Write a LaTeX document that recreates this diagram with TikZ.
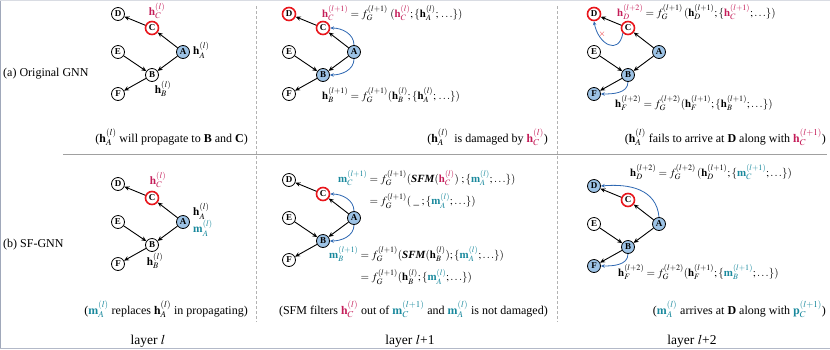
\documentclass[tikz,border=0pt]{standalone}
\usepackage{amsmath}
\usepackage{mathptmx}
\usepackage{fontspec}
\setmainfont{Liberation Serif}
\usetikzlibrary{arrows.meta,positioning}

\definecolor{hotred}{RGB}{232,22,28}
\definecolor{hcol}{RGB}{196,28,88}
\definecolor{mcol}{RGB}{24,136,156}
\definecolor{nodeblue}{RGB}{157,195,230}
\definecolor{flowblue}{RGB}{46,104,178}
\definecolor{rulegray}{RGB}{160,160,160}
\definecolor{framegray}{RGB}{160,168,186}

\begin{document}
\begin{tikzpicture}[x=1pt,y=-1pt,>={Stealth[length=5pt,width=4.4pt]},
    gnode/.style={circle,draw,line width=0.8pt,fill=white,minimum size=13pt,inner sep=0pt,font=\bfseries\fontsize{9}{10}\selectfont},
    hot/.style={gnode,draw=hotred,line width=1.6pt},
    seen/.style={gnode,fill=nodeblue},
    link/.style={->,line width=0.9pt},
    flow/.style={-{Stealth[length=3.8pt,width=3.4pt]},flowblue,line width=0.8pt},
    lab/.style={font=\fontsize{11.5}{13}\selectfont,inner sep=0pt},
    eqn/.style={font=\fontsize{11}{13}\selectfont,inner sep=0pt,anchor=base west},
    capnote/.style={font=\fontsize{12}{14}\selectfont,inner sep=0pt,anchor=base east}]
    \useasboundingbox (0,0) rectangle (830,349);

    % frame and separators
    \draw[framegray] (0.6,0) -- (0.6,349);
    \draw[framegray!40] (0,0.6) -- (830,0.6);
    \draw[framegray!80,line width=1.2pt] (0,348.2) -- (830,348.2);
    \draw[rulegray,line width=1pt] (63,154) -- (827,154);
    \draw[rulegray!80,line width=0.9pt,dash pattern=on 3pt off 2pt] (256,6) -- (256,322);
    \draw[rulegray!80,line width=0.9pt,dash pattern=on 3pt off 2pt] (557,6) -- (557,322);

    % the six graphs
    \foreach \p/\ox/\oy/\sD/\sC/\sB/\sF in {
        1/118/14/gnode/hot/gnode/gnode,
        2/289/14/hot/hot/seen/gnode,
        3/594/14/hot/hot/seen/seen,
        4/118/184/gnode/hot/gnode/gnode,
        5/289/180/gnode/hot/seen/gnode,
        6/594/186/seen/hot/seen/seen}{
        \begin{scope}[shift={(\ox,\oy)}]
            \node[\sD] (D\p) at (0,0) {D};
            \node[\sC] (C\p) at (34,14) {C};
            \node[seen] (A\p) at (65,38) {A};
            \node[gnode] (E\p) at (0,38) {E};
            \node[\sB] (B\p) at (34,61) {B};
            \node[\sF] (F\p) at (0,80) {F};
        \end{scope}
        \foreach \s/\t in {A/C,C/D,A/B,E/B,B/F}
            \draw[link] (\s\p) -- (\t\p);
    }

    % message flows
    \draw[flow] (A2.north) to[out=90,in=0] (C2.east);
    \draw[flow] (A2.south) to[out=-90,in=0] (B2.east);
    \draw[flow] (C3.south west) to[out=-100,in=-80,looseness=1.9] (D3.south);
    \draw[flow] (B3.south) to[out=-90,in=0] (F3.east);
    \draw[flow] (A5.north) to[out=90,in=0] (C5.east);
    \draw[flow] (A5.south) to[out=-90,in=0] (B5.east);
    \draw[flow] (A6.north) to[out=95,in=5,looseness=1.1] (D6.east);
    \draw[flow] (B6.south) to[out=-90,in=0] (F6.east);
    \node[text=hotred,inner sep=0pt,font=\small] (cut) at (602,34) {$\times$};

    % row labels
    \node[capnote,anchor=base west] (rowa) at (3,76) {(a) Original GNN};
    \node[capnote,anchor=base west] (rowb) at (3,247) {(b) SF-GNN};

    % (a) layer l
    \node[lab,text=hcol] (hc1) at (157,11) {$\mathbf{h}_C^{(l)}$};
    \node[lab,anchor=west] (ha1) at (193,50) {$\mathbf{h}_A^{(l)}$};
    \node[lab] (hb1) at (163,89) {$\mathbf{h}_B^{(l)}$};
    \node[capnote] (cap1) at (248,142) {($\mathbf{h}_A^{(l)}$ will propagate to \textbf{B} and \textbf{C})};

    % (a) layer l+1
    \node[eqn] (eqc2) at (322,17)
        {$\textcolor{hcol}{\mathbf{h}_C^{(l+1)}} = f_G^{(l+1)}\;(\textcolor{hcol}{\mathbf{h}_C^{(l)}};\{\mathbf{h}_A^{(l)};\,\ldots\})$};
    \node[eqn] (eqb2) at (322,99)
        {$\mathbf{h}_B^{(l+1)} = f_G^{(l+1)}(\mathbf{h}_B^{(l)};\{\mathbf{h}_A^{(l)};\,\ldots\})$};
    \node[capnote] (cap2) at (548,142) {($\mathbf{h}_A^{(l)}$\ \ is damaged by \textcolor{hcol}{$\mathbf{h}_C^{(l)}$})};

    % (a) layer l+2
    \node[eqn] (eqd3) at (617,16)
        {$\textcolor{hcol}{\mathbf{h}_D^{(l+2)}} = f_G^{(l+1)}\,(\mathbf{h}_D^{(l+1)};\{\textcolor{hcol}{\mathbf{h}_C^{(l+1)}};\ldots\})$};
    \node[eqn] (eqf3) at (615,107)
        {$\mathbf{h}_F^{(l+2)} = f_G^{(l+2)}(\mathbf{h}_F^{(l+1)};\{\mathbf{h}_B^{(l+1)};\ldots\})$};
    \node[capnote] (cap3) at (826,142) {($\mathbf{h}_A^{(l)}$ fails to arrive at \textbf{D} along with \textcolor{hcol}{$\mathbf{h}_C^{(l+1)}$})};

    % (b) layer l
    \node[lab,text=hcol] (hc4) at (158,180) {$\mathbf{h}_C^{(l)}$};
    \node[lab,anchor=west] (ha4) at (193,211) {$\mathbf{h}_A^{(l)}$};
    \node[lab,anchor=west,text=mcol] (ma4) at (193,228) {$\mathbf{m}_A^{(l)}$};
    \node[lab] (hb4) at (155,261) {$\mathbf{h}_B^{(l)}$};
    \node[capnote] (cap4) at (248,314) {(\textcolor{mcol}{$\mathbf{m}_A^{(l)}$} replaces $\mathbf{h}_A^{(l)}$ in propagating)};

    % (b) layer l+1
    \node[eqn] (eqc5) at (338,182)
        {$\begin{aligned}[t]
            \textcolor{mcol}{\mathbf{m}_C^{(l+1)}} &= f_G^{(l+1)}(\text{\textbf{\textit{SFM}}}(\textcolor{hcol}{\mathbf{h}_C^{(l)}})\;;\{\textcolor{mcol}{\mathbf{m}_A^{(l)}};\ldots\})\\[3pt]
            &= f_G^{(l+1)}(\;\_\;;\{\textcolor{mcol}{\mathbf{m}_A^{(l)}};\ldots\})
        \end{aligned}$};
    \node[eqn] (eqb5) at (329,258)
        {$\begin{aligned}[t]
            \textcolor{mcol}{\mathbf{m}_B^{(l+1)}} &= f_G^{(l+1)}(\text{\textbf{\textit{SFM}}}(\mathbf{h}_B^{(l)});\{\textcolor{mcol}{\mathbf{m}_A^{(l)}};\ldots\})\\[3pt]
            &= f_G^{(l+1)}(\mathbf{h}_B^{(l)};\{\textcolor{mcol}{\mathbf{m}_A^{(l)}};\ldots\})
        \end{aligned}$};
    \node[capnote] (cap5) at (548,314) {(SFM filters \textcolor{hcol}{$\mathbf{h}_C^{(l)}$} out of \textcolor{mcol}{$\mathbf{m}_C^{(l+1)}$} and \textcolor{mcol}{$\mathbf{m}_A^{(l)}$} is not damaged)};

    % (b) layer l+2
    \node[eqn] (eqd6) at (630,176)
        {$\mathbf{h}_D^{(l+2)} = f_G^{(l+2)}\,(\mathbf{h}_D^{(l+1)};\{\textcolor{mcol}{\mathbf{m}_C^{(l+1)}};\ldots\})$};
    \node[eqn] (eqf6) at (618,276)
        {$\mathbf{h}_F^{(l+2)} = f_G^{(l+2)}(\mathbf{h}_F^{(l+1)};\{\textcolor{mcol}{\mathbf{m}_B^{(l+1)}};\ldots\})$};
    \node[capnote] (cap6) at (826,314) {(\textcolor{mcol}{$\mathbf{m}_A^{(l)}$} arrives at \textbf{D} along with \textcolor{mcol}{$\mathbf{p}_C^{(l+1)}$})};

    % layer titles
    \node[capnote,anchor=base,font=\fontsize{13.5}{15}\selectfont] (lay1) at (148,344) {layer $l$};
    \node[capnote,anchor=base,font=\fontsize{13.5}{15}\selectfont] (lay2) at (410,344) {layer $l$+1};
    \node[capnote,anchor=base,font=\fontsize{13.5}{15}\selectfont] (lay3) at (692,344) {layer $l$+2};
\end{tikzpicture}
\end{document}
